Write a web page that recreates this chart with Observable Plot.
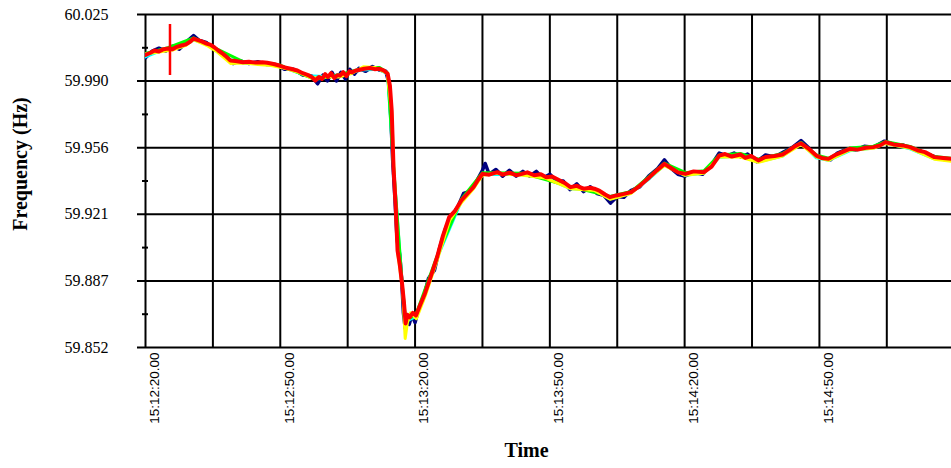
<!DOCTYPE html>
<html><head><meta charset="utf-8">
<script src="https://cdn.jsdelivr.net/npm/d3@7"></script>
<script src="https://cdn.jsdelivr.net/npm/@observablehq/plot@0.6"></script>
<style>body{margin:0;background:#fff;overflow:hidden}</style>
</head><body><div id="chart"></div>
<script>
// seconds after 15:12:20
const xDomain = [0, 179.4];
const gridT = [0, 15, 30, 45, 60, 75, 90, 105, 120, 135, 150, 165];
const xTickSec = [0, 30, 60, 90, 120, 150];
const xTickLabels = ["15:12:20.00", "15:12:50.00", "15:13:20.00", "15:13:50.00", "15:14:20.00", "15:14:50.00"];
const yDomain = [59.852, 60.025];
const yTicks = [59.852, 59.8866, 59.9212, 59.9558, 59.9904, 60.025];
const yTickLabels = ["59.852", "59.887", "59.921", "59.956", "59.990", "60.025"];
const yMinor = [59.8693, 59.9039, 59.9385, 59.9731, 60.0077];

const redT = [0,1,2,3,4,5,6,7,8,9,10,10.7,11.5,12.5,13.6,14.5,15.3,16.2,17,17.8,18.9,20,21.7,23,24.5,26,27.1,28.5,29.8,31,32.3,33.8,35,36.2,37,37.8,38.6,39.3,40,40.6,41.3,42,42.7,43.3,44,44.7,45.4,46,46.7,47.5,48.7,50,51,52.1,53,53.9,54.4,54.8,55.2,55.7,56.1,56.6,57.1,57.5,57.9,58.3,58.8,59.5,60.2,61.2,62.2,63.5,64.9,66.2,67.6,68.9,70.3,71.7,73,74,75,76.5,78.3,79.5,81,82.5,83.8,85,86.5,88,89.2,90.5,92,93.3,94.6,96,97.5,99,99.9,101,102.3,103.4,104.8,106.5,108.1,110,112.2,113.8,115.5,116.8,118.5,120.2,122,124.3,126,127.7,129,130.5,132.4,133.5,134.8,136.4,138,140,141.8,143,144.5,145.9,147.5,149.3,150.5,152,153.5,155,156.7,158.5,160.3,162,163.5,164.7,166.5,168.5,170.2,171.8,173.5,175.6,177.5,179.4];
const redV = [60.0040,60.0050,60.0063,60.0058,60.0070,60.0073,60.0070,60.0082,60.0089,60.0095,60.0110,60.0125,60.0118,60.0110,60.0099,60.0092,60.0080,60.0063,60.0050,60.0035,60.0011,60.0008,60.0002,60.0004,60.0000,60.0002,59.9999,59.9993,59.9985,59.9975,59.9968,59.9959,59.9945,59.9935,59.9925,59.9907,59.9925,59.9915,59.9940,59.9925,59.9945,59.9920,59.9935,59.9933,59.9950,59.9930,59.9955,59.9950,59.9958,59.9962,59.9968,59.9972,59.9966,59.9968,59.9960,59.9942,59.9880,59.9751,59.9457,59.9250,59.9024,59.8950,59.8853,59.8760,59.8645,59.8690,59.8677,59.8700,59.8686,59.8745,59.8801,59.8890,59.8989,59.9100,59.9197,59.9230,59.9284,59.9320,59.9353,59.9390,59.9422,59.9418,59.9431,59.9418,59.9428,59.9415,59.9422,59.9430,59.9415,59.9420,59.9405,59.9408,59.9390,59.9375,59.9353,59.9360,59.9345,59.9350,59.9345,59.9335,59.9315,59.9301,59.9310,59.9318,59.9327,59.9360,59.9405,59.9440,59.9474,59.9455,59.9430,59.9422,59.9435,59.9431,59.9460,59.9517,59.9525,59.9512,59.9523,59.9505,59.9515,59.9492,59.9510,59.9515,59.9523,59.9540,59.9565,59.9581,59.9555,59.9517,59.9505,59.9500,59.9520,59.9535,59.9552,59.9548,59.9558,59.9561,59.9570,59.9587,59.9575,59.9570,59.9561,59.9545,59.9535,59.9509,59.9505,59.9500];

const navyT = [0,1.5,3,4.5,6,7.5,9,10.7,12,13.5,15,16.5,18,19.5,21,23,25,27,29,31,33,35,37,38.3,39.5,40.5,41.5,42.5,43.5,44.5,45.5,46.5,47.5,49,50.5,52,53.5,54.2,54.6,55,55.5,56,56.6,57,57.4,57.8,58.2,58.7,59.3,60,60.8,61.8,63,64.3,65.5,66.8,68,69.5,70.8,72,73.5,75,75.6,76.5,78,79.5,81,82.5,84,85.5,87,88.5,90,91.5,93,94.5,96,97.5,99,100.5,102,103.5,105,106.5,108,110,112,114,115.5,117,118.5,120,122,124,126,127.7,129.5,131,132.5,134,136,138,140,142,144,145.9,147.5,149.3,151,152.5,154,156,158,160,162,164.5,166.5,168.5,170.5,172.5,174.5,176.5,178,179.4];
const navyV = [60.0025,60.0060,60.0075,60.0060,60.0085,60.0070,60.0105,60.0140,60.0115,60.0105,60.0075,60.0055,60.0030,59.9995,60.0010,59.9995,60.0005,59.9990,59.9990,59.9965,59.9965,59.9935,59.9930,59.9890,59.9935,59.9905,59.9950,59.9905,59.9950,59.9915,59.9965,59.9940,59.9970,59.9955,59.9980,59.9962,59.9955,59.9890,59.9720,59.9500,59.9300,59.9080,59.9000,59.8880,59.8700,59.8620,59.8660,59.8640,59.8690,59.8650,59.8720,59.8770,59.8880,59.8920,59.9040,59.9140,59.9200,59.9250,59.9320,59.9330,59.9375,59.9440,59.9476,59.9420,59.9445,59.9410,59.9440,59.9410,59.9435,59.9410,59.9435,59.9400,59.9420,59.9385,59.9385,59.9340,59.9370,59.9330,59.9355,59.9320,59.9310,59.9270,59.9305,59.9300,59.9335,59.9355,59.9410,59.9450,59.9495,59.9450,59.9420,59.9410,59.9430,59.9420,59.9470,59.9530,59.9515,59.9530,59.9510,59.9525,59.9485,59.9520,59.9510,59.9535,59.9560,59.9595,59.9560,59.9510,59.9505,59.9495,59.9530,59.9550,59.9545,59.9565,59.9560,59.9592,59.9575,59.9572,59.9555,59.9540,59.9520,59.9505,59.9495,59.9495];

const yellowT = [0,3,6,9,10.7,13.6,16,19,22,25,28,31,34,37,40,43,46,48.5,51,53.8,54.8,55.3,56.2,57.2,57.8,58.3,59,60.3,62.3,65,67.7,70.4,73,75,78,84,89,94.6,100,103.4,108,112,115.5,120,124.3,127.7,132.4,136.4,141.8,145.9,149.3,152,156.7,162,164.7,170.2,175.6,179.4];
const yellowV = [60.0045,60.0055,60.0065,60.0090,60.0120,60.0090,60.0055,59.9995,59.9998,59.9990,59.9985,59.9970,59.9950,59.9920,59.9925,59.9925,59.9945,59.9978,59.9975,59.9945,59.9740,59.9440,59.9000,59.8830,59.8567,59.8650,59.8700,59.8670,59.8790,59.8980,59.9180,59.9275,59.9345,59.9415,59.9425,59.9415,59.9400,59.9345,59.9335,59.9290,59.9320,59.9400,59.9465,59.9415,59.9425,59.9510,59.9510,59.9482,59.9515,59.9575,59.9510,59.9492,59.9545,59.9555,59.9580,59.9555,59.9498,59.9488];

const cyanT = [0,4,8,10.7,14,18,22,27,31,36,40,44,48,52,53.9,55.2,57.1,57.9,60.2,64.9,70.3,75,84,89.2,94.6,99.9,103.4,108,112.2,115.5,120,124.3,127.7,132.4,136.4,141.8,145.9,149.3,152,156.7,162,164.7,170.2,175.6,179.4];
const cyanV = [60.0030,60.0068,60.0082,60.0118,60.0092,60.0020,59.9998,59.9995,59.9972,59.9932,59.9928,59.9938,59.9962,59.9966,59.9940,59.9460,59.8850,59.8655,59.8680,59.8985,59.9280,59.9420,59.9418,59.9400,59.9345,59.9340,59.9292,59.9322,59.9398,59.9468,59.9415,59.9425,59.9508,59.9515,59.9485,59.9515,59.9585,59.9505,59.9492,59.9542,59.9556,59.9582,59.9552,59.9500,59.9495];

const greenT = [0,5,10.7,16.2,21.7,29.8,37.8,43.3,48.7,52.1,53.9,55.2,57.1,57.9,60.2,64.9,70.3,75,84,94.6,103.4,108.1,112.2,115.5,120.2,124.3,127.7,132.4,136.4,141.8,145.9,149.3,152,156.7,162,164.7,170.2,175.6,179.4];
const greenV = [60.0048,60.0078,60.0128,60.0068,60.0005,59.9988,59.9912,59.9938,59.9972,59.9975,59.9946,59.9465,59.8858,59.8660,59.8692,59.8995,59.9290,59.9428,59.9425,59.9356,59.9305,59.9330,59.9410,59.9478,59.9428,59.9438,59.9520,59.9528,59.9498,59.9528,59.9585,59.9520,59.9503,59.9556,59.9566,59.9590,59.9565,59.9512,59.9503];

const cursorT = [5.45];
const cursorLo = [59.9933];
const cursorHi = [60.0198];

const series = [
  {name: "navy", color: "#00007f", t: navyT, v: navyV, w: 3.5},
  {name: "cyan", color: "#00ffff", t: cyanT, v: cyanV, w: 3},
  {name: "green", color: "#00ff00", t: greenT, v: greenV, w: 3},
  {name: "yellow", color: "#ffff00", t: yellowT, v: yellowV, w: 3},
  {name: "red", color: "#ff0000", t: redT, v: redV, w: 4}
];

const lineMarks = series.map(s => Plot.line(s.t.map((t, i) => ({t, v: s.v[i]})), {
  x: "t", y: "v", stroke: s.color, strokeWidth: s.w, strokeLinejoin: "round", clip: true
}));

const serif = "'Liberation Serif', 'Times New Roman', serif";
const sans = "'Liberation Sans', Arial, sans-serif";

const chart = Plot.plot({
  width: 951,
  height: 468,
  marginLeft: 145,
  marginRight: 0,
  marginTop: 14,
  marginBottom: 121,
  style: {background: "#fff", overflow: "visible"},
  x: {domain: xDomain, axis: null},
  y: {domain: yDomain, axis: null},
  marks: [
    Plot.ruleX(gridT, {stroke: "#000", strokeWidth: 2}),
    Plot.ruleY(yTicks, {stroke: "#000", strokeWidth: 2, insetLeft: -8}),
    Plot.ruleY(yMinor, {x1: xDomain[0], x2: xDomain[0], insetLeft: -3, insetRight: -3, stroke: "#000", strokeWidth: 2}),
    ...lineMarks,
    Plot.ruleX(cursorT, {x: d => d, y1: (d, i) => cursorLo[i], y2: (d, i) => cursorHi[i], stroke: "#ff0000", strokeWidth: 2.5}),
    Plot.text(yTicks, {y: d => d, frameAnchor: "left", text: (d, i) => yTickLabels[i], textAnchor: "end", dx: -37,
      fontFamily: serif, fontSize: 16, fill: "#000"}),
    Plot.text(xTickSec, {x: d => d, frameAnchor: "bottom", text: (d, i) => xTickLabels[i], rotate: -90,
      textAnchor: "end", lineAnchor: "middle", dx: 9, dy: 5, fontFamily: sans, fontSize: 13.5, fill: "#000"}),
    Plot.text(["Frequency (Hz)"], {frameAnchor: "left", rotate: -90, textAnchor: "middle", dx: -125, dy: -17,
      fontFamily: serif, fontWeight: "bold", fontSize: 20, fill: "#000"}),
    Plot.text(["Time"], {frameAnchor: "bottom", textAnchor: "middle", dx: -22, dy: 109,
      fontFamily: serif, fontWeight: "bold", fontSize: 20, fill: "#000"})
  ]
});
document.getElementById("chart").appendChild(chart);
</script>
</body></html>
